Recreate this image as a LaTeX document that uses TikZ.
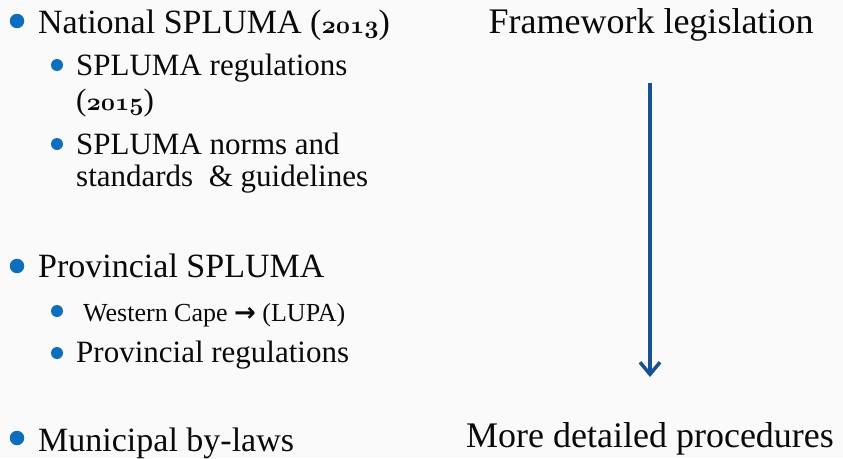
\documentclass[tikz,border=0pt]{standalone}
\usepackage{fontspec}
\setmainfont{Liberation Serif}
\newfontfamily\arrowfont{DejaVu Sans}
\usetikzlibrary{arrows.meta}
\makeatletter
\newcommand{\osfnum}[1]{{\fontsize{\dimexpr 1.12\dimexpr\f@size pt\relax\relax}{1em}\fontencoding{OML}\fontfamily{cmm}\fontseries{b}\fontshape{it}\selectfont #1}}
\makeatother
\definecolor{bulletblue}{RGB}{12,110,188}
\definecolor{arrowblue}{RGB}{22,80,150}
\definecolor{bgc}{RGB}{250,250,250}
\definecolor{txt}{RGB}{10,10,10}
\tikzset{
  bigdot/.style={circle,fill=bulletblue,inner sep=0pt,minimum size=14.5pt},
  smalldot/.style={circle,fill=bulletblue,inner sep=0pt,minimum size=12pt},
  lvlone/.style={anchor=base west,inner sep=0pt,text=txt,font=\fontsize{34}{40}\selectfont},
  lvltwo/.style={anchor=base west,inner sep=0pt,text=txt,font=\fontsize{31}{35}\selectfont},
  lvlsmall/.style={anchor=base west,inner sep=0pt,text=txt,font=\fontsize{26}{30}\selectfont},
  rightlbl/.style={anchor=base,inner sep=0pt,text=txt,font=\fontsize{36}{40}\selectfont},
  flowarrow/.style={draw=arrowblue,line width=3.5pt,-{Straight Barb[length=12pt,width=20pt,line width=3.5pt]}}
}
\begin{document}
\begin{tikzpicture}[x=1pt,y=-1pt]
\fill[bgc] (0,0) rectangle (843,458);
\useasboundingbox (0,0) rectangle (843,458);
% level-one bullets
\node[bigdot] (b1) at (17,21) {};
\node[lvlone] (t1) at (38,33) {National SPLUMA (\osfnum{2013})};
\node[smalldot] (b11) at (57,65) {};
\node[lvltwo] (t11a) at (76,75) {SPLUMA regulations};
\node[lvltwo] (t11b) at (76,110) {(\osfnum{2015})};
\node[smalldot] (b12) at (57,144) {};
\node[lvltwo] (t12a) at (76,154) {SPLUMA norms and};
\node[lvltwo] (t12b) at (76,186) {standards \ \& guidelines};
\node[bigdot] (b2) at (17,266) {};
\node[lvlone] (t2) at (38,277) {Provincial SPLUMA};
\node[smalldot] (b21) at (57,311) {};
\node[lvlsmall] (t21) at (83,321) {Western Cape {\arrowfont\bfseries →} (LUPA)};
\node[smalldot] (b22) at (57,353) {};
\node[lvltwo] (t22) at (76,362) {Provincial regulations};
\node[bigdot] (b3) at (17,438) {};
\node[lvlone] (t3) at (38,451) {Municipal by-laws};
% right column
\node[rightlbl] (r1) at (651,33) {Framework legislation};
\node[rightlbl] (r2) at (650,447) {More detailed procedures};
\coordinate (atop) at (650,83);
\coordinate (abot) at (650,377);
\draw[flowarrow] (atop) -- (abot);
\end{tikzpicture}
\end{document}
